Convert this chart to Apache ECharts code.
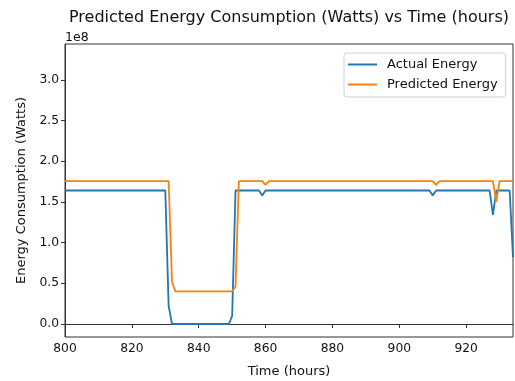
<!DOCTYPE html>
<html>
<head>
<meta charset="utf-8">
<script src="https://cdn.jsdelivr.net/npm/echarts@6/dist/echarts.min.js"></script>
<style>
  html, body { margin: 0; padding: 0; background: #fff; }
  #chart { width: 515px; height: 381px; }
</style>
</head>
<body>
<div id="chart"></div>
<script>
const BLUE = "#1f77b4";
const ORANGE = "#ff7f0e";
const FONT = "DejaVu Sans";

// hours where the curve changes; values in Watts
const actualHours = [800, 830, 831, 832, 849, 850, 851, 858, 859, 860, 909, 910, 911, 927, 928, 929, 933, 934];
const actualWatts = [1.64e8, 1.64e8, 0.22e8, 0, 0, 0.1e8, 1.64e8, 1.64e8, 1.58e8, 1.64e8, 1.64e8, 1.58e8, 1.64e8, 1.64e8, 1.34e8, 1.64e8, 1.64e8, 0.82e8];

const predictedHours = [800, 831, 832, 833, 850, 851, 852, 859, 860, 861, 910, 911, 912, 928, 929, 930, 934];
const predictedWatts = [1.756e8, 1.756e8, 0.52e8, 0.40e8, 0.40e8, 0.46e8, 1.756e8, 1.756e8, 1.71e8, 1.756e8, 1.756e8, 1.71e8, 1.756e8, 1.756e8, 1.50e8, 1.756e8, 1.756e8];

const xTicks = [800, 820, 840, 860, 880, 900, 920];
const yTicks = [0, 0.5e8, 1.0e8, 1.5e8, 2.0e8, 2.5e8, 3.0e8];

const chart = echarts.init(document.getElementById("chart"), null, { renderer: "canvas" });

const pairs = (xs, ys) => xs.map((x, i) => [x, ys[i]]);

chart.setOption({
  animation: false,
  textStyle: { fontFamily: FONT },
  title: {
    text: "Predicted Energy Consumption (Watts) vs Time (hours)",
    left: 284,
    textAlign: "center",
    top: 5,
    textStyle: { fontFamily: FONT, fontSize: 16, fontWeight: "normal", color: "#111" },
  },
  graphic: [{
    type: "text",
    left: 65,
    top: 31,
    style: { text: "1e8", font: "12.5px DejaVu Sans", fill: "#111" },
  }],
  grid: {
    left: 65, right: 2, top: 44, bottom: 44,
    outerBoundsMode: "none",
    show: true, borderColor: "#333", borderWidth: 1,
  },
  legend: {
    orient: "vertical",
    left: 344,
    top: 53,
    padding: [5, 8, 6, 4],
    icon: "rect",
    itemWidth: 29,
    itemHeight: 2,
    itemGap: 7,
    borderColor: "#d0d0d0",
    borderWidth: 1,
    borderRadius: 3,
    backgroundColor: "rgba(255,255,255,0.8)",
    textStyle: { fontFamily: FONT, fontSize: 13, color: "#111", padding: [0, 0, 0, 5] },
    data: ["Actual Energy", "Predicted Energy"],
  },
  xAxis: {
    type: "value",
    min: 800,
    max: 934,
    name: "Time (hours)",
    nameLocation: "middle",
    nameGap: 28,
    nameTextStyle: { fontFamily: FONT, fontSize: 13, color: "#111" },
    axisLine: { show: true, lineStyle: { color: "#333", width: 1 } },
    axisTick: { show: true, length: 4, customValues: xTicks, lineStyle: { color: "#333" } },
    axisLabel: { customValues: xTicks, fontFamily: FONT, fontSize: 12.3, color: "#111", margin: 6 },
    splitLine: { show: false },
  },
  yAxis: {
    type: "value",
    min: -0.16e8,
    max: 3.44e8,
    name: "Energy Consumption (Watts)",
    nameLocation: "middle",
    nameGap: 37,
    nameTextStyle: { fontFamily: FONT, fontSize: 13, color: "#111" },
    axisLine: { show: true, lineStyle: { color: "#333", width: 1 } },
    axisTick: { show: true, length: 4, customValues: yTicks, lineStyle: { color: "#333" } },
    axisLabel: {
      customValues: yTicks,
      fontFamily: FONT,
      fontSize: 12.3,
      color: "#111",
      margin: 6,
      formatter: (v) => (v / 1e8).toFixed(1),
    },
    splitLine: { show: false },
  },
  series: [
    {
      name: "Actual Energy",
      type: "line",
      data: pairs(actualHours, actualWatts),
      symbol: "none",
      lineStyle: { color: BLUE, width: 1.8 },
      itemStyle: { color: BLUE },
    },
    {
      name: "Predicted Energy",
      type: "line",
      data: pairs(predictedHours, predictedWatts),
      symbol: "none",
      lineStyle: { color: ORANGE, width: 1.8 },
      itemStyle: { color: ORANGE },
    },
  ],
});
</script>
</body>
</html>
